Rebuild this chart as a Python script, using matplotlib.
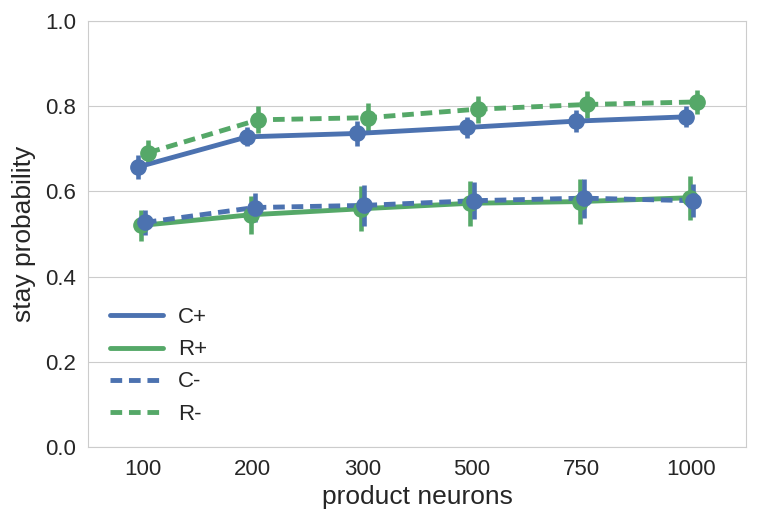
import matplotlib
matplotlib.use("Agg")
import matplotlib.pyplot as plt
import seaborn as sns
import numpy as np

sns.set_style("whitegrid")
plt.rcParams['font.family'] = ['Liberation Sans', 'DejaVu Sans']

# data
neurons = ["100", "200", "300", "500", "750", "1000"]
labels = ["C+", "R+", "C-", "R-"]

c_plus = [0.657, 0.728, 0.736, 0.750, 0.765, 0.775]
r_plus = [0.520, 0.545, 0.559, 0.572, 0.576, 0.585]
c_minus = [0.527, 0.562, 0.567, 0.578, 0.584, 0.578]
r_minus = [0.691, 0.768, 0.773, 0.793, 0.804, 0.810]

c_plus_ci = [0.028, 0.022, 0.029, 0.025, 0.025, 0.025]
r_plus_ci = [0.036, 0.044, 0.053, 0.053, 0.052, 0.052]
c_minus_ci = [0.029, 0.035, 0.048, 0.044, 0.046, 0.039]
r_minus_ci = [0.029, 0.032, 0.034, 0.032, 0.031, 0.029]

blue = "#4C72B0"
green = "#55A868"

series = [
    (c_plus, c_plus_ci, blue, "-"),
    (r_plus, r_plus_ci, green, "-"),
    (c_minus, c_minus_ci, blue, "--"),
    (r_minus, r_minus_ci, green, "--"),
]

fig = plt.figure(figsize=(7.6, 5.13), dpi=100)
ax = fig.add_axes([0.116, 0.129, 0.866, 0.830])

x = np.arange(len(neurons))
offsets = np.linspace(-0.05, 0.05, len(series))

for (vals, ci, col, ls), off, lab in zip(series, offsets, labels):
    xs = x + off
    ax.errorbar(xs, vals, yerr=ci, fmt="none", ecolor=col, elinewidth=3.3, zorder=2)
    ax.plot(xs, vals, color=col, linestyle=ls, linewidth=3.5, label=lab,
            dashes=(2.4, 1.4) if ls == "--" else (None, None), zorder=3)
    ax.plot(xs, vals, "o", color=col, markersize=11, zorder=4)

ax.set_xlim(-0.5, len(neurons) - 0.5)
ax.set_ylim(0, 1.0)
ax.set_xticks(x)
ax.set_xticklabels(neurons)
ax.set_yticks([0, 0.2, 0.4, 0.6, 0.8, 1.0])
ax.set_yticklabels(["0.0", "0.2", "0.4", "0.6", "0.8", "1.0"])
ax.tick_params(labelsize=16, pad=5)
ax.xaxis.grid(False)
ax.set_xlabel("product neurons", fontsize=19, labelpad=4)
ax.set_ylabel("stay probability", fontsize=19, labelpad=7)

leg = ax.legend(loc="lower left", frameon=False, fontsize=16, handlelength=2.35,
                handletextpad=0.7, labelspacing=0.5, borderaxespad=0.6)

plt.savefig("out.png", dpi=100)
